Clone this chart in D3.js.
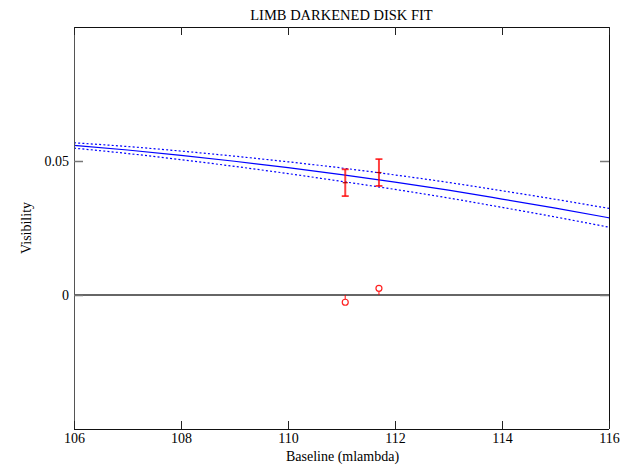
<!DOCTYPE html>
<html>
<head>
<meta charset="utf-8">
<script src="https://cdn.jsdelivr.net/npm/d3@7"></script>
<style>
  html, body { margin: 0; padding: 0; background: #fff; }
  svg { display: block; }
  text { font-family: "Liberation Serif", "Times New Roman", serif; fill: #000; }
</style>
</head>
<body>
<svg id="chart" width="626" height="469"></svg>
<script>
// Baselines (mlambda) at which the model curve and its bounds are tabulated
const baselines = [106, 107, 108, 109, 110, 111, 112, 113, 114, 115, 116];
// Limb-darkened disk model visibility
const fitVis   = [0.0558, 0.0541, 0.0521, 0.0499, 0.0475, 0.0449, 0.0421, 0.0391, 0.0358, 0.0324, 0.0288];
// Upper / lower uncertainty envelope of the model
const upperVis = [0.0568, 0.0554, 0.0537, 0.0518, 0.0497, 0.0474, 0.0448, 0.0420, 0.0389, 0.0357, 0.0323];
const lowerVis = [0.0548, 0.0528, 0.0505, 0.0480, 0.0453, 0.0424, 0.0394, 0.0362, 0.0327, 0.0291, 0.0253];

// Measured visibilities with errors
const obsBaseline = [111.07, 111.70];
const obsVis      = [0.0419, 0.0457];
const obsErr      = [0.0050, 0.0050];
// Residuals (measured minus model)
const residuals   = [-0.0027, 0.0025];

const xTicks = [106, 108, 110, 112, 114, 116];
const yTicks = [0, 0.05];

const svg = d3.select("#chart");
const mLeft = 74, mRight = 609, mTop = 27, mBottom = 429;

const x = d3.scaleLinear().domain([106, 116]).range([mLeft, mRight]);
const y = d3.scaleLinear().domain([-0.05, 0.1]).range([mBottom, mTop]);

const plot = svg.append("g");

// Zero line
plot.append("line")
  .attr("x1", mLeft).attr("x2", mRight)
  .attr("y1", y(0)).attr("y2", y(0))
  .attr("stroke", "#333").attr("stroke-width", 1.4);

// Model curves
const line = d3.line()
  .x(d => x(d[0])).y(d => y(d[1]))
  .curve(d3.curveMonotoneX);

const series = [
  { vals: upperVis, dash: "2,2.2" },
  { vals: lowerVis, dash: "2,2.2" },
  { vals: fitVis,   dash: null }
];
series.forEach(s => {
  plot.append("path")
    .datum(baselines.map((b, i) => [b, s.vals[i]]))
    .attr("d", line)
    .attr("fill", "none")
    .attr("stroke", "#0000ff")
    .attr("stroke-width", 1.2)
    .attr("stroke-dasharray", s.dash);
});

// Error bars
const obs = obsBaseline.map((b, i) => ({ b, v: obsVis[i], e: obsErr[i], r: residuals[i] }));
const eb = plot.selectAll("g.err").data(obs).join("g").attr("class", "err");
eb.append("line")
  .attr("x1", d => x(d.b)).attr("x2", d => x(d.b))
  .attr("y1", d => y(d.v + d.e)).attr("y2", d => y(d.v - d.e))
  .attr("stroke", "rgba(255,0,0,0.75)").attr("stroke-width", 2);
[1, -1].forEach(sgn => {
  eb.append("line")
    .attr("x1", d => x(d.b) - 3.5).attr("x2", d => x(d.b) + 3.5)
    .attr("y1", d => y(d.v + sgn * d.e)).attr("y2", d => y(d.v + sgn * d.e))
    .attr("stroke", "rgba(255,0,0,0.8)").attr("stroke-width", 1.8);
});
eb.append("line")
  .attr("x1", d => x(d.b) - 2.5).attr("x2", d => x(d.b) + 2.5)
  .attr("y1", d => y(d.v)).attr("y2", d => y(d.v))
  .attr("stroke", "#b00000").attr("stroke-width", 1.2);

// Residuals
const rg = plot.selectAll("g.res").data(obs).join("g").attr("class", "res");
rg.append("line")
  .attr("x1", d => x(d.b)).attr("x2", d => x(d.b))
  .attr("y1", y(0))
  .attr("y2", d => y(d.r) + (d.r < 0 ? -3 : 3))
  .attr("stroke", "rgba(255,0,0,0.8)").attr("stroke-width", 1.2);
rg.append("circle")
  .attr("cx", d => x(d.b)).attr("cy", d => y(d.r)).attr("r", 3)
  .attr("fill", "none").attr("stroke", "#ff2020").attr("stroke-width", 1.2);

// Frame
const frame = svg.append("g").attr("shape-rendering", "crispEdges");
frame.append("line").attr("x1", mLeft).attr("x2", mRight).attr("y1", mTop).attr("y2", mTop).attr("stroke", "#111");
frame.append("line").attr("x1", mLeft).attr("x2", mRight).attr("y1", mBottom).attr("y2", mBottom).attr("stroke", "#111");
frame.append("line").attr("x1", mLeft).attr("x2", mLeft).attr("y1", mTop).attr("y2", mBottom).attr("stroke", "#555");
frame.append("line").attr("x1", mRight).attr("x2", mRight).attr("y1", mTop).attr("y2", mBottom).attr("stroke", "#111");

// Axes with inward ticks
const fontSize = "14px";
const xAxis = svg.append("g").attr("transform", `translate(0,${mBottom})`)
  .call(d3.axisBottom(x).tickValues(xTicks).tickFormat(d3.format("d")).tickSizeInner(-8).tickSizeOuter(0).tickPadding(4));
const xTop = svg.append("g").attr("transform", `translate(0,${mTop})`)
  .call(d3.axisTop(x).tickValues(xTicks).tickFormat("").tickSizeInner(-8).tickSizeOuter(0));
const yAxis = svg.append("g").attr("transform", `translate(${mLeft},0)`)
  .call(d3.axisLeft(y).tickValues(yTicks).tickFormat(d => d === 0 ? "0" : d3.format(".2f")(d)).tickSizeInner(-9).tickSizeOuter(0).tickPadding(5));
const yRight = svg.append("g").attr("transform", `translate(${mRight},0)`)
  .call(d3.axisRight(y).tickValues(yTicks).tickFormat("").tickSizeInner(-9).tickSizeOuter(0));

[xAxis, xTop, yAxis, yRight].forEach(g => {
  g.select(".domain").remove();
  g.selectAll("text").attr("font-family", "Liberation Serif, serif").attr("font-size", fontSize).attr("fill", "#000");
});
xAxis.selectAll(".tick line").attr("stroke", "#222");
xTop.selectAll(".tick line").attr("stroke", "#222");
yAxis.selectAll(".tick line").attr("stroke", "#777").attr("stroke-width", 1.5);
yRight.selectAll(".tick line").attr("stroke", "#777").attr("stroke-width", 1.5);

// Titles
svg.append("text")
  .attr("x", (mLeft + mRight) / 2).attr("y", 20)
  .attr("text-anchor", "middle").attr("font-size", "14.5px")
  .text("LIMB DARKENED DISK FIT");
svg.append("text")
  .attr("x", (mLeft + mRight) / 2 + 1).attr("y", 461)
  .attr("text-anchor", "middle").attr("font-size", "14px")
  .text("Baseline (mlambda)");
svg.append("text")
  .attr("transform", `translate(31,${(mTop + mBottom) / 2}) rotate(-90)`)
  .attr("text-anchor", "middle").attr("font-size", "14px")
  .text("Visibility");
</script>
</body>
</html>
